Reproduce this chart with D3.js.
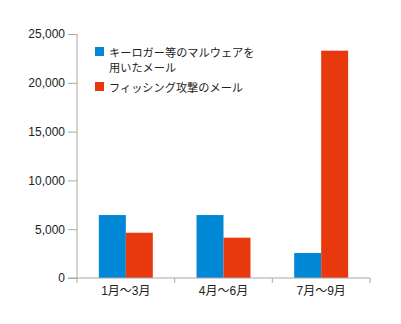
<!DOCTYPE html>
<html><head><meta charset="utf-8">
<script src="https://cdn.jsdelivr.net/npm/d3@7"></script>
<style>
body{margin:0;background:#fff;}
svg text{fill:#222;}
</style></head>
<body><svg id="c" width="401" height="324"></svg>
<script>
const categories = ["1月〜3月", "4月〜6月", "7月〜9月"];
const seriesNames = ["キーロガー等のマルウェアを\n用いたメール", "フィッシング攻撃のメール"];
const malware = [6450, 6450, 2560];
const phishing = [4640, 4130, 23290];
const yTicks = [0, 5000, 10000, 15000, 20000, 25000];
const colors = ["#0088d6", "#e8380e"];

const svg = d3.select("#c");
const m = {left: 77, right: 31, top: 34, bottom: 46};
const W = 401, H = 324;
const x = d3.scaleBand().domain(categories).range([m.left, W - m.right]).paddingInner(0).paddingOuter(0);
const x1 = d3.scaleBand().domain([0, 1]).range([0, x.bandwidth()]).paddingInner(0).paddingOuter(0.81);
const y = d3.scaleLinear().domain([0, 25000]).range([H - m.bottom, m.top]);

const data = categories.map((c, i) => ({c, v: [malware[i], phishing[i]]}));

// bars
const g = svg.append("g");
data.forEach(d => {
  d.v.forEach((v, j) => {
    g.append("rect")
      .attr("x", x(d.c) + x1(j))
      .attr("y", y(v))
      .attr("width", x1.bandwidth())
      .attr("height", y(0) - y(v))
      .attr("fill", colors[j]);
  });
});

// y axis
const yAxis = d3.axisLeft(y).tickValues(yTicks).tickFormat(d3.format(",")).tickSize(9).tickPadding(3);
const ya = svg.append("g").attr("transform", `translate(${m.left},0)`).call(yAxis);
ya.selectAll("path,line").attr("stroke", "#a8a8a8");
ya.select(".domain").attr("d", `M0,${y(25000)}V${y(0)}`);
ya.selectAll("text").style("font-family", "'Liberation Sans', Arial, sans-serif").style("font-size", "12px").attr("fill", "#222");

// x axis
const xa = svg.append("g").attr("transform", `translate(0,${y(0)})`);
xa.append("line").attr("x1", m.left - 9).attr("x2", W - m.right).attr("stroke", "#a8a8a8");
const bounds = categories.map(c => x(c)).concat([x(categories[categories.length - 1]) + x.bandwidth()]);
bounds.forEach(b => xa.append("line").attr("x1", b).attr("x2", b).attr("y1", 0).attr("y2", 5).attr("stroke", "#a8a8a8"));
categories.forEach(c => {
  xa.append("text").attr("x", x(c) + x.bandwidth() / 2).attr("y", 17).attr("text-anchor", "middle")
    .style("font-family", "'Liberation Sans', 'Noto Sans CJK JP', sans-serif").style("font-size", "12px").text(c);
});

// legend
const lg = svg.append("g");
const legendY = [47, 82];
seriesNames.forEach((n, j) => {
  lg.append("rect").attr("x", 95).attr("y", legendY[j]).attr("width", 9).attr("height", 9).attr("fill", colors[j]);
  const lines = n.split("\n");
  lines.forEach((t, k) => {
    lg.append("text").attr("x", 109).attr("y", legendY[j] + 9.5 + k * 15.5)
      .style("font-family", "'Noto Sans CJK JP', sans-serif").style("font-size", "11.2px").text(t);
  });
});
</script></body></html>
